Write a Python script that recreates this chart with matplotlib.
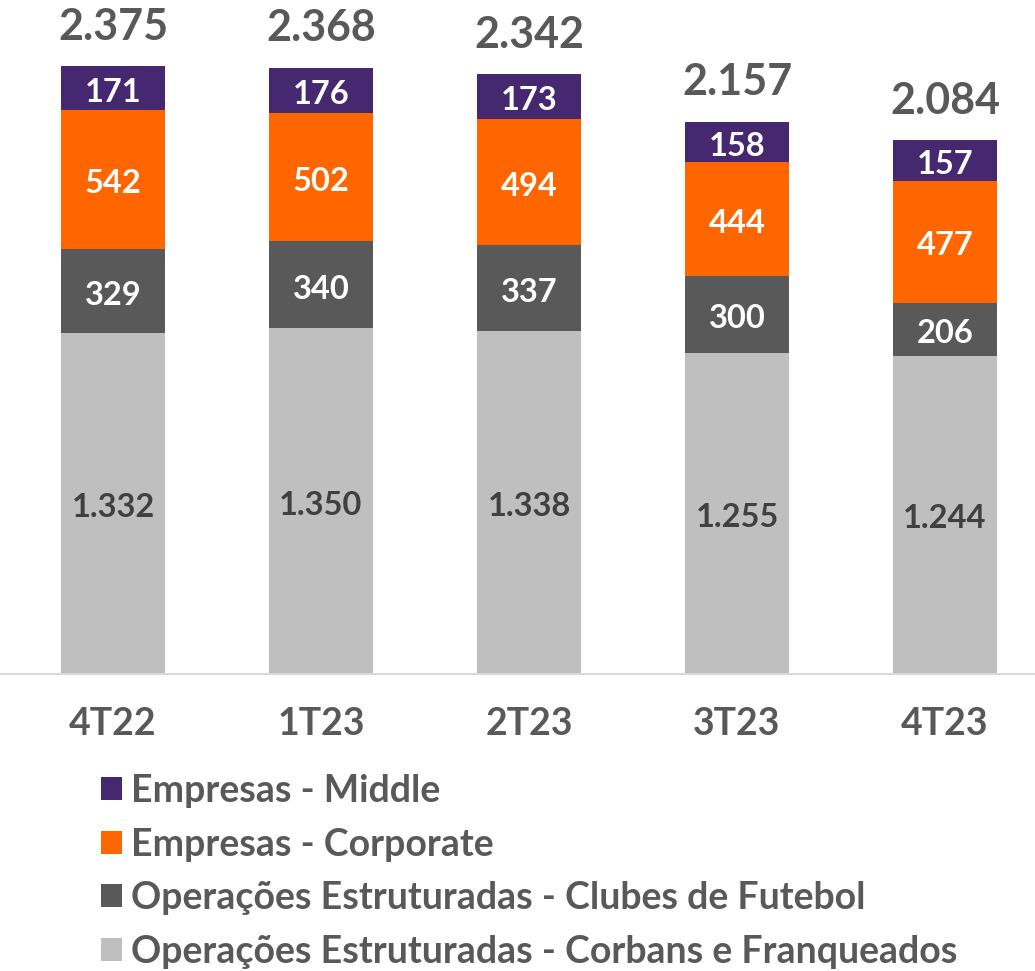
import matplotlib.pyplot as plt
import numpy as np

quarters = ["4T22", "1T23", "2T23", "3T23", "4T23"]
corbans = [1332, 1350, 1338, 1255, 1244]
clubes = [329, 340, 337, 300, 206]
corporate = [542, 502, 494, 444, 477]
middle = [171, 176, 173, 158, 157]
totals = ["2.375", "2.368", "2.342", "2.157", "2.084"]
corbans_labels = ["1.332", "1.350", "1.338", "1.255", "1.244"]

names = ["Operações Estruturadas - Corbans e Franqueados",
         "Operações Estruturadas - Clubes de Futebol",
         "Empresas - Corporate",
         "Empresas - Middle"]
colors = ["#BFBFBF", "#595959", "#FF6600", "#452870"]
text_colors = ["#404040", "white", "white", "white"]

plt.rcParams['font.family'] = ['Lato', 'DejaVu Sans']
plt.rcParams['font.weight'] = 'bold'

fig = plt.figure(figsize=(10.35, 9.71), dpi=100)
ax = fig.add_axes([0, 297 / 971, 1, 666 / 971])

x = np.arange(len(quarters))
series = [corbans, clubes, corporate, middle]
bottom = np.zeros(len(quarters))
bars = []
for i, vals in enumerate(series):
    b = ax.bar(x, vals, 0.5, bottom=bottom, color=colors[i], label=names[i])
    bars.append(b)
    for j, v in enumerate(vals):
        lab = corbans_labels[j] if i == 0 else str(v)
        ax.annotate(lab, (x[j], bottom[j] + v / 2), xytext=(0, -3),
                    textcoords='offset points', ha='center', va='center',
                    color=text_colors[i], fontsize=23.5, fontweight='bold')
    bottom = bottom + np.array(vals)

for j in range(len(quarters)):
    ax.annotate(totals[j], (x[j], bottom[j]), xytext=(0, 19),
                textcoords='offset points', ha='center', va='baseline',
                fontsize=31, fontweight='bold', color='#595959')

ax.set_xlim(-113 / 208, (1035 - 113) / 208)
ax.set_ylim(0, 666 / 0.256)
ax.set_xticks(x)
ax.set_xticklabels(quarters, fontsize=27, fontweight='bold', color='#595959')
ax.tick_params(axis='x', length=0, pad=24)
ax.set_yticks([])
for s in ['top', 'right', 'left']:
    ax.spines[s].set_visible(False)
ax.spines['bottom'].set_color('#D9D9D9')
ax.spines['bottom'].set_linewidth(1.5)

handles = [bars[3], bars[2], bars[1], bars[0]]
labels = [names[3], names[2], names[1], names[0]]
leg = fig.legend(handles, labels, loc='upper left', bbox_to_anchor=(101 / 1035, 1 - 774 / 971),
                 frameon=False, fontsize=27, handlelength=0.56, handleheight=0.56,
                 handletextpad=0.25, labelspacing=0.52, borderpad=0, borderaxespad=0)
for t in leg.get_texts():
    t.set_color('#595959')
    t.set_fontweight('bold')

fig.savefig("out.png", dpi=100)
